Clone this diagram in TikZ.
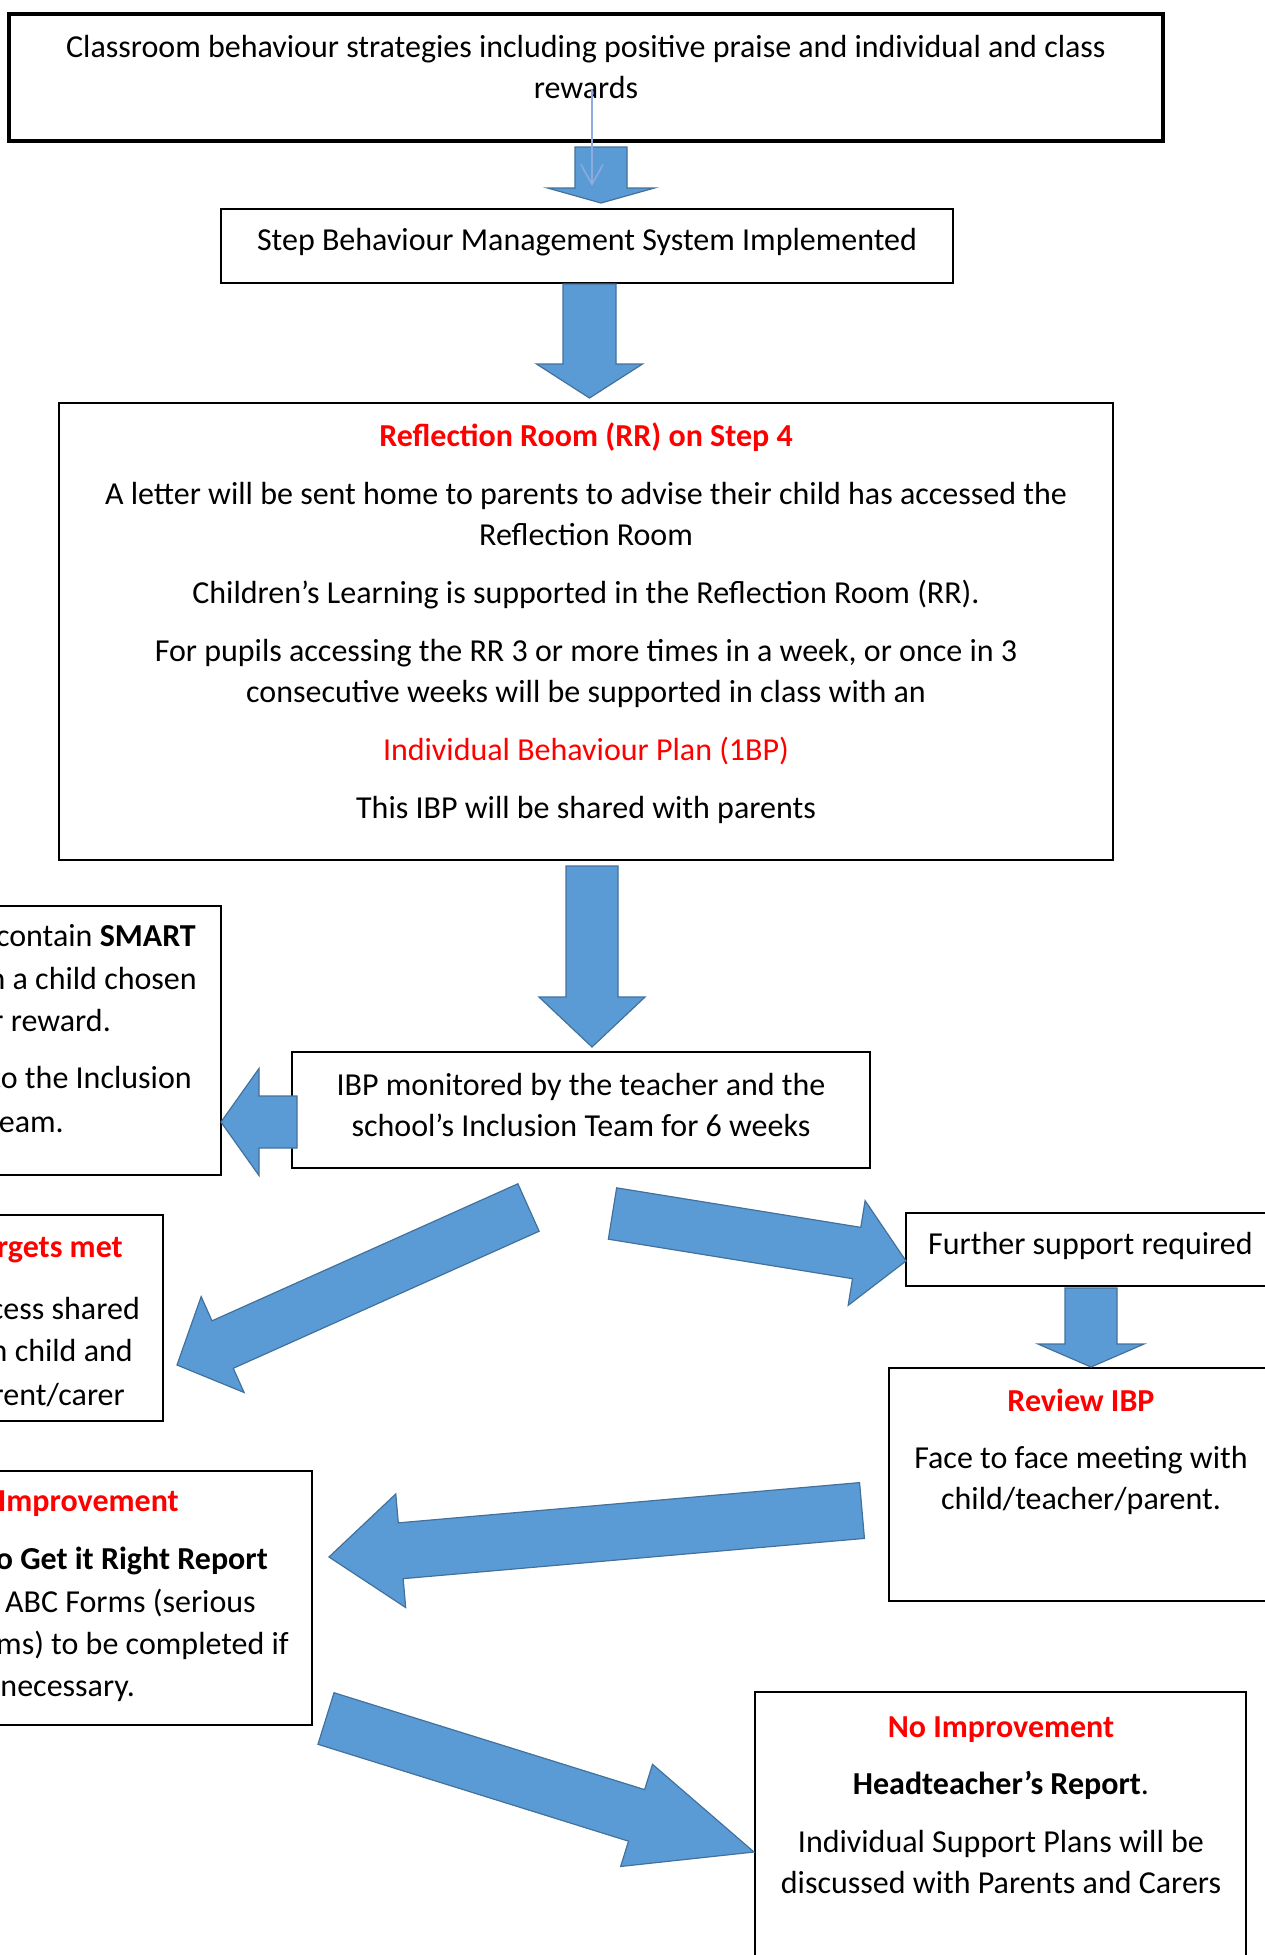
\documentclass[tikz,border=0pt]{standalone}
\usepackage{fontspec}
\setmainfont{Carlito}
\usepackage{tikz}
\usetikzlibrary{arrows.meta,calc,positioning}
\definecolor{arrowblue}{HTML}{5B9BD5}
\definecolor{arrowedge}{HTML}{41719C}
\definecolor{thinblue}{HTML}{8FAADC}
\definecolor{stepred}{HTML}{FF0000}
\newcommand{\flowfont}{\fontsize{32}{41}\selectfont}
\tikzset{
  flowbox/.style={rectangle,draw=black,line width=2.8pt,inner sep=0pt},
  boxtext/.style={align=center,inner sep=0pt,font=\flowfont},
  cuttext/.style={anchor=east,inner sep=0pt,text height=24pt,text depth=8pt,font=\flowfont},
  arrowshape/.style={fill=arrowblue,draw=arrowedge,line width=1.2pt,line join=miter},
  thinarrow/.style={-{Straight Barb[length=20pt,width=22pt]},draw=thinblue,line width=1.5pt},
}
% block arrow: tail, tip, half shaft width, half head width, head length
\newcommand{\blockarrow}[5]{%
  \coordinate (ba-base) at ($(#2)!#5!(#1)$);
  \filldraw[arrowshape]
    ($(#1)!#3!90:(#2)$) -- ($(ba-base)!#3!90:(#2)$) -- ($(ba-base)!#4!90:(#2)$)
    -- (#2) -- ($(ba-base)!#4!-90:(#2)$) -- ($(ba-base)!#3!-90:(#2)$)
    -- ($(#1)!#3!-90:(#2)$) -- cycle;
}

\begin{document}
\begin{tikzpicture}[x=1pt,y=-1pt,font=\flowfont]
  \useasboundingbox (0,0) rectangle (1265,1955);
  \clip (0,0) rectangle (1265,1955);

  % boxes
  \node[flowbox,line width=4pt,minimum width=1154pt,minimum height=127pt] (top) at (586,77.5) {};
  \node[flowbox,minimum width=732pt,minimum height=74pt] (step) at (587,246) {};
  \node[flowbox,minimum width=1054pt,minimum height=457pt] (rr) at (586,631.5) {};
  \node[flowbox,minimum width=578pt,minimum height=116pt] (ibp) at (581,1110) {};
  \node[flowbox,minimum width=521pt,minimum height=269pt] (smart) at (-39.5,1040.5) {};
  \node[flowbox,minimum width=463pt,minimum height=206pt] (met) at (-68.5,1318) {};
  \node[flowbox,minimum width=612pt,minimum height=254pt] (getright) at (6,1598) {};
  \node[flowbox,minimum width=374pt,minimum height=73pt] (further) at (1093,1249.5) {};
  \node[flowbox,minimum width=386pt,minimum height=233pt] (review) at (1082,1484.5) {};
  \node[flowbox,minimum width=491pt,minimum height=298pt] (noimp) at (1000.5,1841) {};

  % texts
  \node[boxtext] (top-t) at (586,67) {Classroom behaviour strategies including positive praise and individual and class\\rewards};
  \node[boxtext] (step-t) at (587,242) {Step Behaviour Management System Implemented};
  \node[boxtext] (rr-t) at (586,623) {\textcolor{stepred}{\textbf{Reflection Room (RR) on Step 4}}\\[17pt]
    A letter will be sent home to parents to advise their child has accessed the\\
    Reflection Room\\[17pt]
    Children’s Learning is supported in the Reflection Room (RR).\\[17pt]
    For pupils accessing the RR 3 or more times in a week, or once in 3\\
    consecutive weeks will be supported in class with an\\[17pt]
    \textcolor{stepred}{Individual Behaviour Plan (1BP)}\\[17pt]
    This IBP will be shared with parents};
  \node[boxtext] (ibp-t) at (581,1105) {IBP monitored by the teacher and the\\school’s Inclusion Team for 6 weeks};
  \node[cuttext] (smart-1) at (196,938) {contain \textbf{SMART}};
  \node[cuttext] (smart-2) at (197,981) {n a child chosen};
  \node[cuttext] (smart-3) at (111,1023) {r reward.};
  \node[cuttext] (smart-4) at (192,1080) {to the Inclusion};
  \node[cuttext] (smart-5) at (64,1124) {eam.};
  \node[cuttext,text=stepred] (met-1) at (123,1249) {\textbf{rgets met}};
  \node[cuttext] (met-2) at (140,1311) {cess shared};
  \node[cuttext] (met-3) at (133,1353) {n child and};
  \node[cuttext] (met-4) at (125,1397) {rent/carer};
  \node[cuttext,text=stepred] (getright-1) at (179,1503) {\textbf{Improvement}};
  \node[cuttext] (getright-2) at (268,1561) {\textbf{o Get it Right Report}};
  \node[cuttext] (getright-3) at (256,1604) {ABC Forms (serious};
  \node[cuttext] (getright-4) at (289,1646) {ms) to be completed if};
  \node[cuttext] (getright-5) at (135,1688) {necessary.};
  \node[cuttext,anchor=west] (further-t) at (928,1246) {Further support required};
  \node[boxtext] (review-t) at (1081,1452) {\textcolor{stepred}{\textbf{Review IBP}}\\[16pt]
    Face to face meeting with\\child/teacher/parent.};
  \node[boxtext] (noimp-t) at (1001,1805) {\textcolor{stepred}{\textbf{No Improvement}}\\[16pt]
    \textbf{Headteacher’s Report}.\\[17pt]
    Individual Support Plans will be\\discussed with Parents and Carers};

  % block arrows
  \coordinate (a1s) at (601,147);    \coordinate (a1e) at (601,203);
  \coordinate (a2s) at (589.5,284);  \coordinate (a2e) at (589.5,398);
  \coordinate (a3s) at (592,866);    \coordinate (a3e) at (592,1047);
  \coordinate (a4s) at (297,1122);   \coordinate (a4e) at (221,1122);
  \coordinate (a5s) at (528.5,1207.5); \coordinate (a5e) at (177,1365);
  \coordinate (a6s) at (612.5,1213.5); \coordinate (a6e) at (906,1261);
  \coordinate (a7s) at (1091,1288);  \coordinate (a7e) at (1091,1367);
  \coordinate (a8s) at (862,1510.5); \coordinate (a8e) at (329,1557);
  \coordinate (a9s) at (326,1718.5); \coordinate (a9e) at (754,1852);
  \blockarrow{a1s}{a1e}{26pt}{53.5pt}{15pt}
  \blockarrow{a2s}{a2e}{26.5pt}{53pt}{34pt}
  \blockarrow{a3s}{a3e}{26pt}{53pt}{50pt}
  \blockarrow{a4s}{a4e}{26pt}{53.5pt}{38pt}
  \blockarrow{a5s}{a5e}{26pt}{52.5pt}{50pt}
  \blockarrow{a6s}{a6e}{26pt}{53pt}{50pt}
  \blockarrow{a7s}{a7e}{26pt}{53pt}{23pt}
  \blockarrow{a8s}{a8e}{28pt}{57pt}{72pt}
  \blockarrow{a9s}{a9e}{27pt}{53.5pt}{123pt}

  \coordinate (thin-s) at (592,90);
  \coordinate (thin-e) at (592,186);
  \draw[thinarrow] (thin-s) -- (thin-e);
\end{tikzpicture}
\end{document}
